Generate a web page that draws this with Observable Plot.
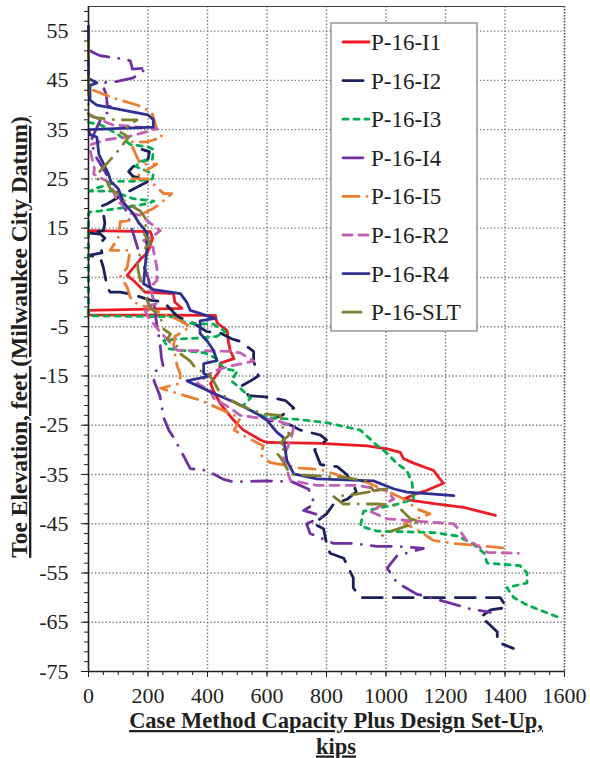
<!DOCTYPE html>
<html><head><meta charset="utf-8">
<script src="https://cdn.jsdelivr.net/npm/d3@7"></script>
<script src="https://cdn.jsdelivr.net/npm/@observablehq/plot@0.6"></script>
<style>body{margin:0;background:#fff}</style>
</head><body><div id="chart"></div>
<script>
// ---- series names / styles ----
const seriesNames = ["P-16-I1","P-16-I2","P-16-I3","P-16-I4","P-16-I5","P-16-R2","P-16-R4","P-16-SLT"];
const seriesColors = ["#ED1C24","#1B1F5C","#00B050","#7030A0","#ED7D31","#C260B4","#2E3192","#80802E"];
const seriesDashes = [null,"20,11","5,6","20,10,0.1,10","16,8,0.1,8","9,7",null,"18,9,0.1,9"];

// ---- values: [capacity (kips), toe elevation (ft)] ----
const p16I1 = [[0,14.5],[208,14.3],[215,13],[205,11],[197,10],[180,9],[165,8],[151,7],[130,5.4],[151,4.4],[174,3],[190,2],[286,1.7],[290,0],[314,-1.3],[0,-1.7],[0,-2.6],[426,-2.7],[432,-4.2],[466,-5.8],[470,-8],[476,-9.8],[489,-11.5],[443,-12.4],[440,-14],[410,-16.5],[420,-18],[443,-20.6],[488,-24],[521,-26],[578,-28],[600,-28.5],[780,-28.7],[936,-29.2],[1004,-29.8],[1048,-30.5],[1059,-31.8],[1093,-32.7],[1160,-34.2],[1176,-35.5],[1193,-36.8],[1138,-38.2],[1093,-39.1],[1060,-40],[1160,-40.9],[1261,-41.7],[1368,-43.3]];
const p16I2 = [[180,31],[205,30.5],[200,29],[150,27.5],[135,26.5],[150,25.5],[190,25],[200,24.5],[120,22],[65,20],[45,19.5],[50,18],[55,16],[50,14.5],[0,14],[40,13.8],[55,13],[40,12],[45,10],[0,9.5],[40,9],[50,7],[63,3],[73,2],[107,2],[150,1.5],[208,0.4],[253,0],[300,-3],[353,-4.3],[398,-6],[443,-6.3],[483,-7.5],[510,-8],[555,-10],[555,-12],[571,-15],[545,-16],[515,-17],[538,-19],[585,-19.2],[622,-19.5],[662,-20],[690,-21.5],[650,-23],[605,-24],[635,-24.3],[680,-25],[712,-26],[746,-26.5],[780,-27],[800,-28],[760,-30],[780,-33],[836,-33.4],[868,-35],[890,-37],[900,-38.5],[870,-40],[824,-41],[800,-43],[757,-45],[790,-46],[800,-49],[812,-51],[858,-52],[890,-56],[890,-58],[914,-60],[1384,-60],[1406,-62],[1351,-62.5],[1317,-64],[1340,-65],[1374,-67],[1374,-69],[1428,-70.3]];
const p16I3 = [[0,36.5],[40,36],[100,34],[140,32],[200,31.5],[218,31],[215,29],[170,28.5],[160,27.5],[218,26],[215,25],[150,24.5],[100,24.5],[73,24],[20,23],[5,22.5],[80,22.5],[150,21],[220,20.5],[200,20],[150,19.5],[100,19],[40,18.5],[5,18.3],[0,18],[0,-2.8],[286,-3],[330,-4.3],[420,-4.5],[460,-6],[430,-7],[375,-7.3],[300,-7.5],[253,-7.8],[270,-9.5],[343,-10],[390,-10.3],[432,-11.5],[454,-13.5],[500,-14],[480,-16],[510,-17.5],[545,-19.5],[520,-21],[545,-22],[600,-23.5],[700,-23.8],[800,-24.5],[914,-26],[970,-29.1],[1004,-30.7],[1037,-32.8],[1070,-34.2],[1088,-36.8],[1093,-40],[1040,-41],[924,-42.5],[914,-45.5],[970,-46.5],[1160,-46.8],[1240,-47.5],[1290,-49],[1330,-51],[1340,-53],[1450,-53.5],[1474,-55],[1474,-57],[1406,-58],[1430,-60],[1474,-61.5],[1580,-64]];
const p16I4 = [[5,51],[20,50.5],[40,50],[97,49.5],[140,49],[145,48],[147,47.3],[197,47.5],[150,45.5],[97,44.8],[45,44.5],[60,42],[63,40],[80,39.5],[40,37],[10,33],[20,30],[60,26],[100,22],[130,18],[150,14],[170,10],[200,5],[220,0],[230,-5],[240,-8],[245,-11.3],[252,-13.3],[225,-14],[220,-16],[240,-19],[253,-23.5],[270,-26],[286,-27.5],[309,-30],[342,-33.8],[398,-34.2],[454,-36],[487,-36.5],[597,-36.3],[685,-36.5],[740,-38],[760,-41],[723,-42.3],[790,-43.5],[733,-45],[745,-47],[824,-49],[890,-49],[970,-49.6],[1037,-49.6],[1126,-50],[1037,-51.5],[1004,-54],[1037,-57],[1104,-59.3],[1210,-61],[1283,-62.3],[1351,-63]];
const p16I5 = [[17,43],[80,41.5],[163,40],[213,38.5],[230,35],[248,33.5],[197,32.5],[140,32.5],[174,28],[230,28],[147,25],[200,25],[253,22],[280,22],[230,19.5],[218,19],[133,16.5],[107,16.3],[100,13],[73,10.5],[140,10.5],[130,7],[107,5.3],[130,3],[140,1],[151,0],[298,-3.5],[343,-5],[290,-7],[286,-9],[298,-13],[308,-14.5],[308,-16.5],[242,-17.5],[308,-18.7],[380,-20],[477,-22.7],[510,-23.5],[490,-26],[532,-27.5],[588,-29.2],[578,-31],[611,-32.6],[712,-33.7],[780,-34],[880,-35.9],[936,-36.6],[1026,-39],[1060,-40],[1104,-42],[1148,-43],[1060,-45],[1100,-46],[1160,-48.4],[1227,-49],[1340,-49.6],[1408,-50]];
const p16R2 = [[5,38],[40,37],[80,36],[230,35.2],[190,34.5],[130,33.5],[63,33],[10,32],[5,31],[20,27],[17,26],[63,24.5],[80,23],[97,20.5],[130,19],[140,18],[185,17.5],[197,16.5],[241,14.5],[220,13.5],[185,12.5],[218,11],[218,10.5],[230,7],[230,4.4],[208,3],[215,1],[230,-0.3],[185,-1],[200,-3],[240,-6],[298,-9.8],[476,-10],[510,-10.3],[555,-12],[476,-13],[420,-14],[365,-16.5],[410,-18],[420,-19.5],[476,-21.5],[510,-23],[555,-23.4],[633,-24],[690,-25.3],[680,-28],[655,-31.5],[678,-36.2],[768,-37.2],[902,-37.2],[1004,-38.3],[1026,-40],[947,-42.5],[1004,-44],[1104,-44.5],[1227,-45],[1250,-46.5],[1272,-48.5],[1295,-49],[1340,-50.8],[1445,-51]];
const p16R4 = [[0,56],[0,45.4],[28,44.5],[5,44],[5,41],[28,40],[200,38],[218,37],[218,35.5],[0,35],[5,34],[28,33.5],[35,30],[67,26],[75,24.5],[100,23],[120,20],[150,18],[170,16],[185,15],[197,13.9],[196,10.5],[190,7],[185,3.7],[220,2.5],[309,1.7],[330,0],[342,-1.7],[426,-3.3],[375,-3.8],[375,-6.4],[400,-8],[420,-9.8],[432,-11.9],[387,-12.5],[387,-14.5],[410,-15],[331,-16],[420,-18.5],[500,-20.6],[567,-22.7],[600,-24],[633,-26.4],[655,-27.5],[667,-32.2],[690,-34.9],[768,-35.9],[958,-36.3],[1025,-37.9],[1070,-38.6],[1228,-39.3]];
const p16SLT = [[0,53],[0,38],[20,37.5],[85,37],[163,37],[107,34.5],[135,33.5],[90,30],[30,26],[29,25],[63,24.5],[73,23],[97,22],[130,20],[174,18.5],[197,16.5],[185,14],[208,12],[175,10],[164,8.4],[167,6.4],[180,3],[197,0.3],[208,-1],[218,-1.7],[242,-3],[253,-5.5],[276,-6.5],[265,-7.5],[286,-8],[298,-9],[309,-10.5],[342,-12],[365,-13.8],[399,-14.3],[420,-16],[443,-18.6],[510,-21],[588,-22.7],[645,-23],[655,-26],[678,-26.8],[645,-28.6],[667,-29.5],[633,-30.7],[645,-31.5],[660,-33],[678,-35],[745,-35.2],[858,-35.6],[936,-36.3],[958,-38.3],[1004,-37.9],[900,-39],[824,-39.5],[857,-41],[970,-41],[1037,-41.3],[1082,-44],[1115,-44.5],[1004,-46.8],[980,-47.7]];

// ---- ticks and titles ----
const xTicks = [0,200,400,600,800,1000,1200,1400,1600];
const yTicks = [55,45,35,25,15,5,-5,-15,-25,-35,-45,-55,-65,-75];
const xGridLines = [200,400,600,800,1000,1200,1400];
const yGridLines = [55,45,35,25,15,5,-5,-15,-25,-35,-45,-55,-65];
const xMinorTicks = d3.range(0, 1601, 50);
const yMinorTicks = d3.range(-75, 60, 2);
const xTitleLines = ["Case Method Capacity Plus Design Set-Up,", "kips"];
const yTitle = "Toe Elevation, feet (Milwaukee City Datum)";

const seriesData = [p16I1,p16I2,p16I3,p16I4,p16I5,p16R2,p16R4,p16SLT];
const rows = seriesNames.flatMap((s, i) => seriesData[i].map(([cap, elev]) => ({series: s, cap, elev})));

const font = "'Liberation Serif', 'Times New Roman', serif";
const ink = "#231F20";
const plain = d => String(d);

const lineMarks = seriesNames.map((s, i) => Plot.line(rows.filter(r => r.series === s), {
  x: "cap", y: "elev", stroke: seriesColors[i], strokeWidth: 2.8,
  strokeDasharray: seriesDashes[i] || undefined, strokeLinejoin: "round", strokeLinecap: "round"
}));

const chart = Plot.plot({
  width: 590, height: 758,
  marginLeft: 88, marginRight: 26, marginTop: 6, marginBottom: 87,
  style: {fontFamily: font, fontSize: "22px", color: ink, background: "#fff"},
  x: {domain: [0, 1600]},
  y: {domain: [-75, 60]},
  marks: [
    Plot.ruleX(xGridLines, {stroke: "#7f7f7f", strokeWidth: 1.4, strokeDasharray: "1.4,2.1"}),
    Plot.ruleY(yGridLines, {stroke: "#7f7f7f", strokeWidth: 1.4, strokeDasharray: "1.4,2.1"}),
    Plot.ruleY([60], {stroke: "#444", strokeWidth: 1.2}),
    Plot.ruleX([1600], {stroke: "#444", strokeWidth: 1.6, strokeDasharray: "1.5,1.5"}),
    ...lineMarks,
    Plot.ruleX([0], {stroke: ink, strokeWidth: 1.6}),
    Plot.ruleY([-75], {stroke: ink, strokeWidth: 1.6}),
    Plot.axisX(xMinorTicks, {tickSize: 4, text: null, tickFormat: () => "", label: null, stroke: ink}),
    Plot.axisX(xTicks, {tickSize: 6, tickPadding: 10, tickFormat: plain, label: null, stroke: ink, fill: ink}),
    Plot.axisY(yMinorTicks, {tickSize: 4, text: null, tickFormat: () => "", label: null, stroke: ink}),
    Plot.axisY(yTicks, {tickSize: 7, tickPadding: 13, tickFormat: plain, label: null, stroke: ink, fill: ink})
  ]
});

document.getElementById("chart").appendChild(chart);
const svg = d3.select(chart);
// force the serif tick-label font
svg.selectAll("text").style("font-family", font).style("font-size", "22px");

// axis titles
const titleCss = `font-family: ${font}; font-weight: bold; font-size: 22.5px; text-decoration: underline;`;
svg.append("text").attr("x", 336).attr("y", 728).attr("text-anchor", "middle")
  .attr("fill", ink).attr("style", titleCss).text(xTitleLines[0]);
svg.append("text").attr("x", 336).attr("y", 753.5).attr("text-anchor", "middle")
  .attr("fill", ink).attr("style", titleCss).text(xTitleLines[1]);
svg.append("text").attr("transform", "translate(27,337) rotate(-90)").attr("text-anchor", "middle")
  .attr("fill", ink).attr("style", `font-family: ${font}; font-weight: bold; font-size: 23.5px; text-decoration: underline;`).text(yTitle);

// legend
const lg = svg.append("g");
lg.append("rect").attr("x", 331).attr("y", 23).attr("width", 146).attr("height", 308)
  .attr("fill", "#fff").attr("stroke", "#7a7a7a").attr("stroke-width", 1.2);
seriesNames.forEach((s, i) => {
  const cy = 42 + i * 38.6;
  lg.append("line").attr("x1", 343).attr("x2", 369).attr("y1", cy).attr("y2", cy)
    .attr("stroke", seriesColors[i]).attr("stroke-width", 2.8)
    .attr("stroke-dasharray", seriesDashes[i] || null).attr("stroke-linecap", "round");
  lg.append("text").attr("x", 371).attr("y", cy).attr("dy", "0.35em").attr("text-anchor", "start")
    .attr("fill", ink).attr("style", `font-family: ${font}; font-size: 23px;`).text(s);
});
</script></body></html>
